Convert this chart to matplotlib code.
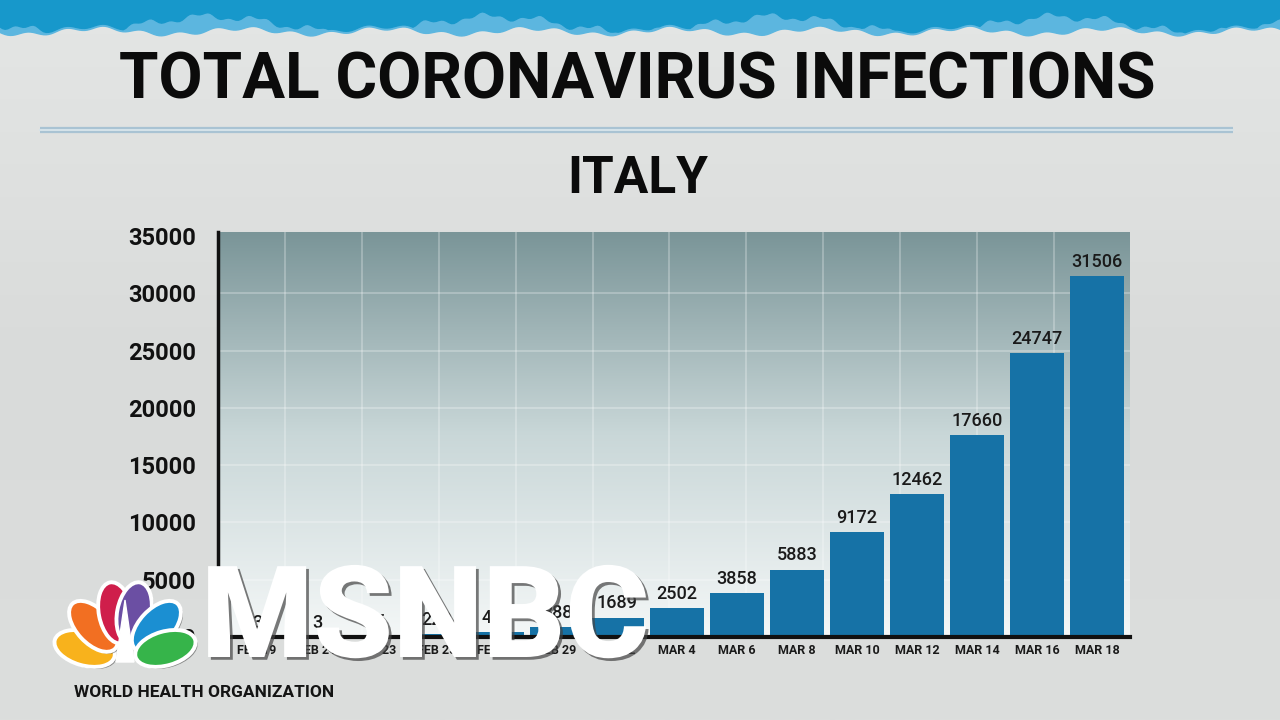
import numpy as np
import matplotlib
matplotlib.use("Agg")
import matplotlib.pyplot as plt
from matplotlib.patches import Polygon, Ellipse
import matplotlib.patheffects as pe

# ---------- DATA ----------
dates = ["FEB 19", "FEB 21", "FEB 23", "FEB 25", "FEB 27", "FEB 29", "MAR 2",
         "MAR 4", "MAR 6", "MAR 8", "MAR 10", "MAR 12", "MAR 14", "MAR 16", "MAR 18"]
cases = [3, 3, 76, 229, 400, 888, 1689, 2502, 3858, 5883, 9172, 12462, 17660, 24747, 31506]
y_ticks = [0, 5000, 10000, 15000, 20000, 25000, 30000, 35000]

title = "TOTAL CORONAVIRUS INFECTIONS"
subtitle = "ITALY"
source = "WORLD HEALTH ORGANIZATION"

FONT = ["Roboto", "DejaVu Sans"]
BAR = "#1672a6"

fig = plt.figure(figsize=(12.8, 7.2), dpi=100)
fig.patch.set_facecolor("#dcdedd")

# ---------- BACKGROUND DECORATION ----------
bg = fig.add_axes([0, 0, 1, 1], zorder=-10)
bg.set_xlim(0, 1280)
bg.set_ylim(720, 0)
bg.axis("off")
grad = np.linspace(0, 1, 256).reshape(-1, 1)
bg.imshow(grad, extent=[0, 1280, 720, 0], cmap=matplotlib.colors.LinearSegmentedColormap.from_list(
    "bgc", ["#e4e6e5", "#d9dbda", "#dcdedd"]), aspect="auto")

# torn blue band at the top
xs = np.linspace(0, 1280, 500)
edge_light = 31 + 3 * np.sin(xs / 23.0 + 0.5) + 2 * np.sin(xs / 6.0)
edge_dark = 24 + 8 * np.sin(xs / 45.0) + 3 * np.sin(xs / 9.0 + 1.3) + 1.5 * np.sin(xs / 3.1)
bg.add_patch(Polygon(np.column_stack([np.r_[xs, 1280, 0], np.r_[edge_light, 0, 0]]),
                     closed=True, color="#5cb6df", zorder=1))
bg.add_patch(Polygon(np.column_stack([np.r_[xs, 1280, 0], np.r_[np.minimum(edge_dark, edge_light - 2), 0, 0]]),
                     closed=True, color="#1798cb", zorder=2))

# rule under the title
bg.plot([40, 1233], [130, 130], color="#a9c3d3", lw=4.5, solid_capstyle="butt", zorder=3)
bg.plot([40, 1233], [130, 130], color="#d6e3ea", lw=1.4, zorder=4)

fig.text(0.498, 0.888, title, ha="center", va="center", fontsize=46, fontweight="bold",
         family=FONT, color="#0b0b0b")
fig.text(0.498, 0.751, subtitle, ha="center", va="center", fontsize=37, fontweight="bold",
         family=FONT, color="#0b0b0b")
fig.text(0.058, 0.038, source, ha="left", va="center", fontsize=12.5, fontweight="bold",
         family=FONT, color="#141414")

# ---------- CHART ----------
ax = fig.add_axes([218 / 1280, 1 - 637 / 720, 912 / 1280, 405 / 720])
x = np.arange(len(dates))
ax.set_xlim(-0.65, 14.55)
ax.set_ylim(0, 35350)

cmap = matplotlib.colors.LinearSegmentedColormap.from_list("plot", ["#f4f7f7", "#c9d7d8", "#7a9598"])
ax.imshow(grad, extent=[0, 1, 0, 1], transform=ax.transAxes, cmap=cmap, aspect="auto",
          origin="lower", zorder=0)

for f in 0.0735 + 0.0843 * np.arange(11):
    ax.axvline(f * 15.2 - 0.65, color="#ffffff", alpha=0.3, lw=1.2, zorder=1)
for t in y_ticks[1:-1]:
    ax.axhline(t, color="#ffffff", alpha=0.3, lw=1.2, zorder=1)

bars = ax.bar(x, cases, width=0.9, color=BAR, zorder=2)
for xi, v in zip(x, cases):
    ax.text(xi, v + 450, str(v), ha="center", va="bottom", fontsize=13, fontweight="medium",
            family=FONT, color="#1a1a1a", zorder=3)

ax.set_xticks(x)
ax.set_xticklabels(dates, fontsize=9, fontweight="bold", family=FONT, color="#1a1a1a")
ax.set_yticks(y_ticks)
ax.set_yticklabels([str(t) for t in y_ticks], fontsize=17, fontweight="bold",
                   family=FONT, color="#111111")
ax.tick_params(axis="both", length=0)
ax.tick_params(axis="y", pad=16)
ax.tick_params(axis="x", pad=5)
for s in ["top", "right"]:
    ax.spines[s].set_visible(False)
ax.spines["left"].set_linewidth(2.5)
ax.spines["bottom"].set_linewidth(3)
ax.spines["left"].set_color("#111111")
ax.spines["bottom"].set_color("#111111")

# ---------- WATERMARK ----------
ov = fig.add_axes([0, 0, 1, 1], zorder=20)
ov.set_xlim(0, 1280)
ov.set_ylim(0, 720)
ov.axis("off")
base_x, base_y = 125, 720 - 660
petal_cols = ["#f8b21c", "#f26f22", "#cf1e4b", "#6b4fa3", "#1b8fd2", "#36b44a"]
petal_ang = [164, 133, 101, 79, 47, 16]
petal_r = [42, 46, 48, 48, 46, 42]
shadow = [pe.withSimplePatchShadow(offset=(1.5, -1.5), shadow_rgbFace="#333333", alpha=0.5)]
for c, a, r in zip(petal_cols, petal_ang, petal_r):
    t = np.deg2rad(a)
    ov.add_patch(Ellipse((base_x + r * np.cos(t), base_y + r * np.sin(t)), 62, 34, angle=a,
                         facecolor=c, edgecolor="white", lw=2.8, path_effects=shadow))
ov.add_patch(Polygon([[base_x - 9, base_y - 2], [base_x, base_y + 60], [base_x + 9, base_y - 2]],
                     closed=True, color="white"))
ov.text(425, 720 - 622, "MSNBC", ha="center", va="center", fontsize=92, fontweight="heavy",
        family=FONT, color="white",
        path_effects=[pe.withSimplePatchShadow(offset=(2, -2), shadow_rgbFace="#444444", alpha=0.7)])

fig.savefig("out.png", dpi=100, facecolor=fig.get_facecolor())
